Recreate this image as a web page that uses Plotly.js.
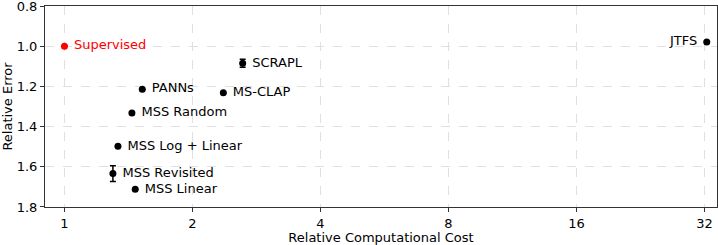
<!DOCTYPE html>
<html>
<head>
<meta charset="utf-8">
<script src="https://cdn.plot.ly/plotly-3.0.1.min.js"></script>
<style>html,body{margin:0;padding:0;background:#fff}#chart{width:718px;height:245px}</style>
</head>
<body>
<div id="chart"></div>
<script>
const methods = ['Supervised','PANNs','MS-CLAP','SCRAPL','MSS Random','MSS Log + Linear','MSS Revisited','MSS Linear','JTFS'];
const cost = [1.0, 1.524, 2.364, 2.625, 1.441, 1.336, 1.30, 1.467, 32.4];
const relErr = [1.0, 1.214, 1.231, 1.085, 1.332, 1.498, 1.634, 1.712, 0.979];
const errStd = [null, null, null, 0.02, null, null, 0.039, null, null];
const xTicks = [1, 2, 4, 8, 16, 32];
const yTicks = [0.8, 1.0, 1.2, 1.4, 1.6, 1.8];

const colors = methods.map(m => m === 'Supervised' ? '#ff0000' : '#000000');
const positions = methods.map(m => m === 'JTFS' ? 'middle left' : 'middle right');
const labels = methods.map(m => m === 'JTFS' ? m + ' ' : ' ' + m);

const trace = {
  x: cost, y: relErr, text: labels,
  mode: 'markers+text', type: 'scatter',
  textposition: positions,
  textfont: {family: 'DejaVu Sans', size: 13, color: colors},
  marker: {color: colors, size: 7},
  error_y: {type: 'data', array: errStd, visible: true, color: '#000', thickness: 1.5, width: 3},
  hoverinfo: 'skip', cliponaxis: false
};

const lg2 = Math.log10(2);
const layout = {
  width: 718, height: 245,
  margin: {l: 45, r: 1, t: 6, b: 38},
  paper_bgcolor: '#fff', plot_bgcolor: '#fff',
  font: {family: 'DejaVu Sans', size: 13, color: '#000'},
  showlegend: false,
  xaxis: {
    type: 'log', range: [-0.152 * lg2, 5.098 * lg2],
    tickvals: xTicks, ticktext: xTicks.map(String),
    showgrid: true, gridcolor: '#e0e0e0', griddash: 'dash', gridwidth: 1,
    showline: true, mirror: true, linecolor: '#333', linewidth: 1,
    ticks: 'outside', ticklen: 4, tickcolor: '#333',
    zeroline: false, automargin: true, ticklabeloverflow: 'allow',
    title: {text: 'Relative Computational Cost', font: {size: 13}, standoff: 2}
  },
  yaxis: {
    range: [1.8002, 0.7998],
    tickvals: yTicks, ticktext: yTicks.map(v => v.toFixed(1)),
    showgrid: true, gridcolor: '#e0e0e0', griddash: 'dash', gridwidth: 1,
    showline: true, mirror: true, linecolor: '#333', linewidth: 1,
    ticks: 'outside', ticklen: 4, tickcolor: '#333',
    zeroline: false, automargin: false, ticklabeloverflow: 'allow',
    title: {text: 'Relative Error', font: {size: 13}, standoff: 4}
  }
};

Plotly.newPlot('chart', [trace], layout, {staticPlot: true, displayModeBar: false});
</script>
</body>
</html>
